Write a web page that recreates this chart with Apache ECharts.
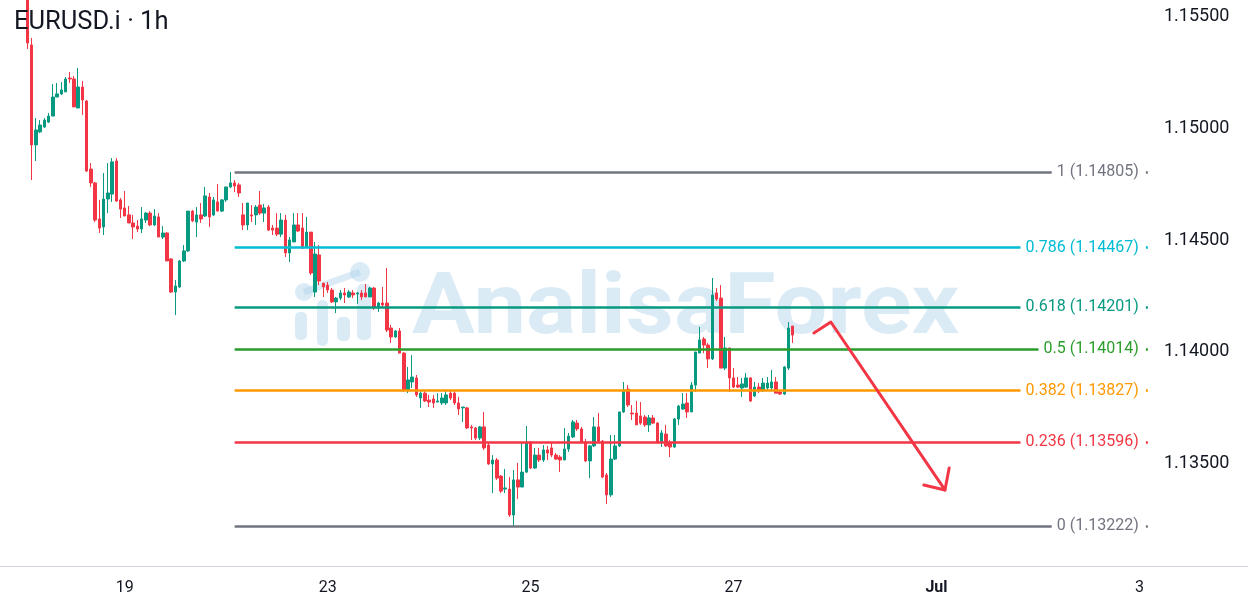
<!DOCTYPE html>
<html>
<head>
<meta charset="utf-8">
<script src="https://cdn.jsdelivr.net/npm/echarts/dist/echarts.min.js"></script>
<style>
html,body{margin:0;padding:0;background:#fff;}
#chart{width:1248px;height:610px;}
</style>
</head>
<body>
<div id="chart"></div>
<script>
// ---------- data ----------
const tradingDays = ['06-17','06-18','06-19','06-20','06-23','06-24','06-25','06-26','06-27','06-30','07-01','07-02','07-03'];
const firstSlot = '06-17 19:00';
const lastSlot = '07-03 02:00';

const tickDays = ['06-19','06-23','06-25','06-27','07-01','07-03'];
const tickTexts = ['19','23','25','27','Jul','3'];

const candleStart = '06-18 01:00';
// [open, close, low, high]
const candles = [
[1.1565,1.15382,1.15355,1.1572],
[1.15373,1.14926,1.14769,1.15404],
[1.14926,1.14993,1.14854,1.15046],
[1.14984,1.15015,1.14979,1.15037],
[1.15006,1.15037,1.15002,1.15046],
[1.15028,1.15055,1.15024,1.15069],
[1.15055,1.15140,1.15055,1.15198],
[1.15140,1.15154,1.15140,1.15203],
[1.15154,1.15172,1.15149,1.15207],
[1.15163,1.15221,1.15163,1.15230],
[1.15225,1.15221,1.15203,1.15252],
[1.15221,1.15096,1.15096,1.15234],
[1.15091,1.15185,1.15091,1.15270],
[1.15185,1.15127,1.15060,1.15212],
[1.15122,1.14809,1.14805,1.15127],
[1.14818,1.14756,1.14738,1.14845],
[1.14756,1.14590,1.14581,1.14760],
[1.14595,1.14554,1.14532,1.14680],
[1.14559,1.14684,1.14523,1.14800],
[1.14684,1.14711,1.14621,1.14845],
[1.14706,1.14850,1.14671,1.14867],
[1.14854,1.14675,1.14671,1.14867],
[1.14680,1.14639,1.14599,1.14689],
[1.14644,1.14608,1.14608,1.14720],
[1.14613,1.14577,1.14577,1.14653],
[1.14577,1.14559,1.14505,1.14613],
[1.14563,1.14550,1.14536,1.14590],
[1.14550,1.14595,1.14532,1.14648],
[1.14590,1.14621,1.14577,1.14626],
[1.14621,1.14568,1.14563,1.14630],
[1.14568,1.14608,1.14563,1.14639],
[1.14604,1.14514,1.14514,1.14621],
[1.14514,1.14532,1.14505,1.14563],
[1.14532,1.14407,1.14407,1.14536],
[1.14416,1.14268,1.14264,1.14420],
[1.14268,1.14295,1.14165,1.14322],
[1.14291,1.14407,1.14286,1.14411],
[1.14407,1.14452,1.14402,1.14478],
[1.14452,1.14630,1.14447,1.14630],
[1.14630,1.14586,1.14581,1.14635],
[1.14581,1.14613,1.14514,1.14648],
[1.14613,1.14595,1.14577,1.14666],
[1.14608,1.14698,1.14604,1.14738],
[1.14693,1.14604,1.14559,1.14711],
[1.14613,1.14680,1.14608,1.14693],
[1.14671,1.14630,1.14630,1.14751],
[1.14630,1.14680,1.14626,1.14684],
[1.14680,1.14738,1.14671,1.14738],
[1.14738,1.14756,1.14733,1.14805],
[1.14756,1.14742,1.14715,1.14769],
[1.14747,1.14711,1.14693,1.14756],
[1.14613,1.14568,1.14545,1.14666],
[1.14568,1.14666,1.14545,1.14666],
[1.14613,1.14608,1.14581,1.14657],
[1.14613,1.14648,1.14568,1.14657],
[1.14657,1.14621,1.14613,1.14720],
[1.14621,1.14644,1.14581,1.14662],
[1.14648,1.14545,1.14541,1.14657],
[1.14554,1.14545,1.14523,1.14568],
[1.14554,1.14527,1.14518,1.14621],
[1.14527,1.14590,1.14514,1.14621],
[1.14590,1.14443,1.14425,1.14613],
[1.14443,1.14501,1.14402,1.14514],
[1.14492,1.14568,1.14492,1.14621],
[1.14568,1.14541,1.14536,1.14621],
[1.14554,1.14465,1.14460,1.14621],
[1.14469,1.14536,1.14465,1.14604],
[1.14536,1.14353,1.14344,1.14536],
[1.14268,1.14438,1.14246,1.14492],
[1.14434,1.14317,1.14299,1.14478],
[1.14308,1.14291,1.14246,1.14308],
[1.14299,1.14277,1.14264,1.14313],
[1.14277,1.14224,1.14219,1.14286],
[1.14224,1.14241,1.14174,1.14246],
[1.14241,1.14264,1.14232,1.14277],
[1.14264,1.14255,1.14219,1.14286],
[1.14246,1.14268,1.14241,1.14277],
[1.14264,1.14255,1.14241,1.14277],
[1.14259,1.14264,1.14215,1.14268],
[1.14264,1.14246,1.14232,1.14277],
[1.14264,1.14246,1.14246,1.14304],
[1.14246,1.14286,1.14246,1.14291],
[1.14286,1.14197,1.14188,1.14291],
[1.14197,1.14219,1.14179,1.14224],
[1.14219,1.14210,1.14197,1.14291],
[1.14219,1.14098,1.14089,1.14375],
[1.14107,1.14067,1.14040,1.14121],
[1.14067,1.14094,1.14063,1.14098],
[1.14094,1.13995,1.13995,1.14107],
[1.13995,1.13830,1.13821,1.14000],
[1.13830,1.13875,1.13816,1.13933],
[1.13866,1.13888,1.13839,1.13986],
[1.13884,1.13808,1.13799,1.13897],
[1.13794,1.13816,1.13750,1.13830],
[1.13816,1.13781,1.13776,1.13830],
[1.13785,1.13776,1.13754,1.13808],
[1.13790,1.13772,1.13750,1.13808],
[1.13776,1.13781,1.13776,1.13816],
[1.13772,1.13794,1.13763,1.13816],
[1.13772,1.13808,1.13763,1.13830],
[1.13816,1.13794,1.13785,1.13830],
[1.13816,1.13772,1.13763,1.13830],
[1.13772,1.13745,1.13718,1.13799],
[1.13750,1.13754,1.13687,1.13754],
[1.13750,1.13660,1.13656,1.13754],
[1.13665,1.13660,1.13606,1.13674],
[1.13660,1.13615,1.13606,1.13665],
[1.13615,1.13665,1.13606,1.13669],
[1.13665,1.13571,1.13562,1.13732],
[1.13584,1.13499,1.13495,1.13593],
[1.13499,1.13517,1.13369,1.13539],
[1.13517,1.13436,1.13428,1.13526],
[1.13445,1.13378,1.13369,1.13450],
[1.13387,1.13392,1.13369,1.13477],
[1.13387,1.13271,1.13262,1.13441],
[1.13271,1.13428,1.13222,1.13472],
[1.13428,1.13396,1.13343,1.13504],
[1.13396,1.13463,1.13396,1.13597],
[1.13463,1.13593,1.13459,1.13669],
[1.13593,1.13481,1.13477,1.13602],
[1.13481,1.13539,1.13477,1.13571],
[1.13539,1.13517,1.13508,1.13571],
[1.13517,1.13562,1.13508,1.13584],
[1.13562,1.13548,1.13517,1.13580],
[1.13571,1.13539,1.13530,1.13593],
[1.13539,1.13521,1.13517,1.13548],
[1.13530,1.13517,1.13463,1.13539],
[1.13517,1.13566,1.13517,1.13660],
[1.13566,1.13624,1.13553,1.13638],
[1.13620,1.13687,1.13615,1.13696],
[1.13682,1.13656,1.13647,1.13696],
[1.13656,1.13597,1.13593,1.13665],
[1.13597,1.13513,1.13508,1.13611],
[1.13513,1.13580,1.13436,1.13584],
[1.13580,1.13665,1.13575,1.13709],
[1.13665,1.13602,1.13593,1.13727],
[1.13602,1.13441,1.13436,1.13606],
[1.13450,1.13361,1.13320,1.13459],
[1.13361,1.13521,1.13352,1.13629],
[1.13521,1.13580,1.13517,1.13629],
[1.13580,1.13732,1.13575,1.13732],
[1.13732,1.13830,1.13727,1.13866],
[1.13834,1.13763,1.13754,1.13852],
[1.13727,1.13723,1.13696,1.13763],
[1.13727,1.13674,1.13674,1.13781],
[1.13714,1.13682,1.13674,1.13776],
[1.13709,1.13674,1.13665,1.13718],
[1.13674,1.13705,1.13642,1.13718],
[1.13705,1.13682,1.13678,1.13718],
[1.13682,1.13593,1.13593,1.13687],
[1.13593,1.13638,1.13575,1.13651],
[1.13633,1.13580,1.13575,1.13674],
[1.13593,1.13575,1.13530,1.13606],
[1.13575,1.13700,1.13571,1.13705],
[1.13700,1.13758,1.13674,1.13763],
[1.13745,1.13767,1.13741,1.13816],
[1.13772,1.13732,1.13705,1.13816],
[1.13732,1.13852,1.13732,1.13866],
[1.13852,1.14000,1.13821,1.14000],
[1.13995,1.14054,1.13995,1.14112],
[1.14058,1.14031,1.13995,1.14067],
[1.14031,1.13969,1.13928,1.14040],
[1.13969,1.14255,1.13964,1.14331],
[1.14264,1.14237,1.14228,1.14286],
[1.14241,1.13928,1.13928,1.14299],
[1.13928,1.14018,1.13919,1.14067],
[1.14018,1.13884,1.13821,1.14018],
[1.13884,1.13843,1.13839,1.13928],
[1.13852,1.13843,1.13839,1.13888],
[1.13839,1.13857,1.13799,1.13884],
[1.13843,1.13884,1.13839,1.13906],
[1.13884,1.13781,1.13776,1.13888],
[1.13803,1.13843,1.13799,1.13866],
[1.13843,1.13826,1.13816,1.13861],
[1.13830,1.13861,1.13821,1.13884],
[1.13839,1.13861,1.13830,1.13888],
[1.13839,1.13866,1.13830,1.13919],
[1.13866,1.13816,1.13816,1.13888],
[1.13821,1.13812,1.13808,1.13830],
[1.13812,1.13933,1.13808,1.13937],
[1.13928,1.14107,1.13919,1.14134],
[1.14116,1.14076,1.14040,1.14116]
];

const fibLevels = ['1','0.786','0.618','0.5','0.382','0.236','0'];
const fibPrices = [1.14805,1.14467,1.14201,1.14014,1.13827,1.13596,1.13222];
const fibFrom = '06-20 02:00';
const fibTo = '07-03 02:00';

const arrowPath = [['06-27 19:00',1.14085],['06-27 23:00',1.14134],['07-01 02:00',1.13383],['06-30 21:00',1.13405]];
const arrowHead = [['07-01 02:00',1.13383],['07-01 03:00',1.13481]];

const priceMin = 1.130, priceMax = 1.15574, priceStep = 0.005;

// ---------- styles ----------
const upColor = '#089981', downColor = '#f23645';
const fibColors = ['#72757f','#00bcd4','#089981','#2a9d2a','#ff9800','#f23645','#72757f'];
const textColor = '#131722';

// ---------- build ----------
const allSlots = [];
tradingDays.forEach(d => { for (let h = 0; h < 24; h++) allSlots.push(d + ' ' + String(h).padStart(2,'0') + ':00'); });
const categories = allSlots.slice(allSlots.indexOf(firstSlot), allSlots.indexOf(lastSlot) + 1);
const startIdx = categories.indexOf(candleStart);
const seriesData = categories.map((c, i) => {
  const k = i - startIdx;
  return (k >= 0 && k < candles.length) ? candles[k] : '-';
});

const fibMarks = fibLevels.map((lv, i) => [
  { coord: [fibFrom, fibPrices[i]],
    lineStyle: { color: fibColors[i], width: 2.5, type: 'solid' },
    label: {
      show: true, position: 'insideEnd', distance: [2, 0],
      formatter: lv + ' (' + fibPrices[i].toFixed(5) + ')',
      color: fibColors[i], fontSize: 16, fontFamily: 'Roboto',
      backgroundColor: '#ffffff', padding: [1, 7, 1, 5]
    } },
  { coord: [fibTo, fibPrices[i]] }
]);

const chart = echarts.init(document.getElementById('chart'), null, { renderer: 'canvas' });
const wmColor = 'rgba(176,210,235,0.45)';
chart.setOption({
  animation: false,
  backgroundColor: '#ffffff',
  title: {
    text: 'EURUSD.i · 1h', left: 14, top: 9, padding: 0,
    textStyle: { fontFamily: 'Roboto', fontSize: 25.5, fontWeight: 'normal', color: textColor, lineHeight: 28 }
  },
  grid: { left: 0, right: 98, top: 0, bottom: 34.4 },
  xAxis: {
    type: 'category', data: categories, boundaryGap: true, offset: -9.6,
    axisLine: { lineStyle: { color: '#d1d4dc', width: 1 } },
    axisTick: { show: false },
    splitLine: { show: false },
    axisLabel: {
      margin: 14, fontFamily: 'Roboto', fontSize: 16, color: textColor,
      interval: (idx, val) => val.endsWith(' 00:00') && tickDays.includes(val.slice(0,5)),
      formatter: (val) => {
        const t = tickTexts[tickDays.indexOf(val.slice(0,5))];
        return t === 'Jul' ? '{b|' + t + '}' : t;
      },
      rich: { b: { fontFamily: 'Roboto', fontSize: 16, fontWeight: 'bold', color: textColor } }
    }
  },
  yAxis: {
    type: 'value', position: 'right', min: priceMin, max: priceMax, interval: priceStep,
    axisLine: { show: false }, axisTick: { show: false }, splitLine: { show: false },
    axisLabel: {
      margin: 14, fontFamily: 'Roboto', fontSize: 18, color: textColor,
      showMinLabel: false, showMaxLabel: false,
      formatter: v => v.toFixed(5)
    }
  },
  series: [
    {
      type: 'candlestick', data: seriesData, barWidth: 3, clip: true,
      itemStyle: { color: upColor, color0: downColor, borderColor: upColor, borderColor0: downColor, borderWidth: 1 },
      markLine: { silent: true, symbol: ['none','none'], animation: false, data: fibMarks }
    },
    {
      type: 'line', data: arrowPath, symbol: 'none', silent: true, z: 5,
      lineStyle: { color: '#f23645', width: 3, cap: 'round', join: 'round' }
    },
    {
      type: 'line', data: arrowHead, symbol: 'none', silent: true, z: 5,
      lineStyle: { color: '#f23645', width: 3, cap: 'round' }
    }
  ],
  graphic: [
    { type: 'group', z: 100, silent: true, children: [
      { type: 'text', left: 412, top: 268, scaleX: 1.09, style: { text: 'AnalisaForex', fill: wmColor, font: 'bold 86px Roboto' } },
      { type: 'circle', shape: { cx: 304, cy: 292, r: 9 }, style: { fill: wmColor } },
      { type: 'circle', shape: { cx: 360, cy: 272, r: 10 }, style: { fill: wmColor } },
      { type: 'line', shape: { x1: 304, y1: 292, x2: 360, y2: 272 }, style: { stroke: wmColor, lineWidth: 7 } },
      { type: 'rect', shape: { x: 295, y: 312, width: 12, height: 28, r: 5 }, style: { fill: wmColor } },
      { type: 'rect', shape: { x: 317, y: 300, width: 11, height: 46, r: 5 }, style: { fill: wmColor } },
      { type: 'rect', shape: { x: 337, y: 317, width: 13, height: 24, r: 5 }, style: { fill: wmColor } },
      { type: 'rect', shape: { x: 357, y: 284, width: 14, height: 56, r: 5 }, style: { fill: wmColor } }
    ] },
    { type: 'line', z: 1, silent: true, shape: { x1: 1150, y1: 566.5, x2: 1248, y2: 566.5 }, style: { stroke: '#d1d4dc', lineWidth: 1 } }
  ]
});
</script>
</body>
</html>
